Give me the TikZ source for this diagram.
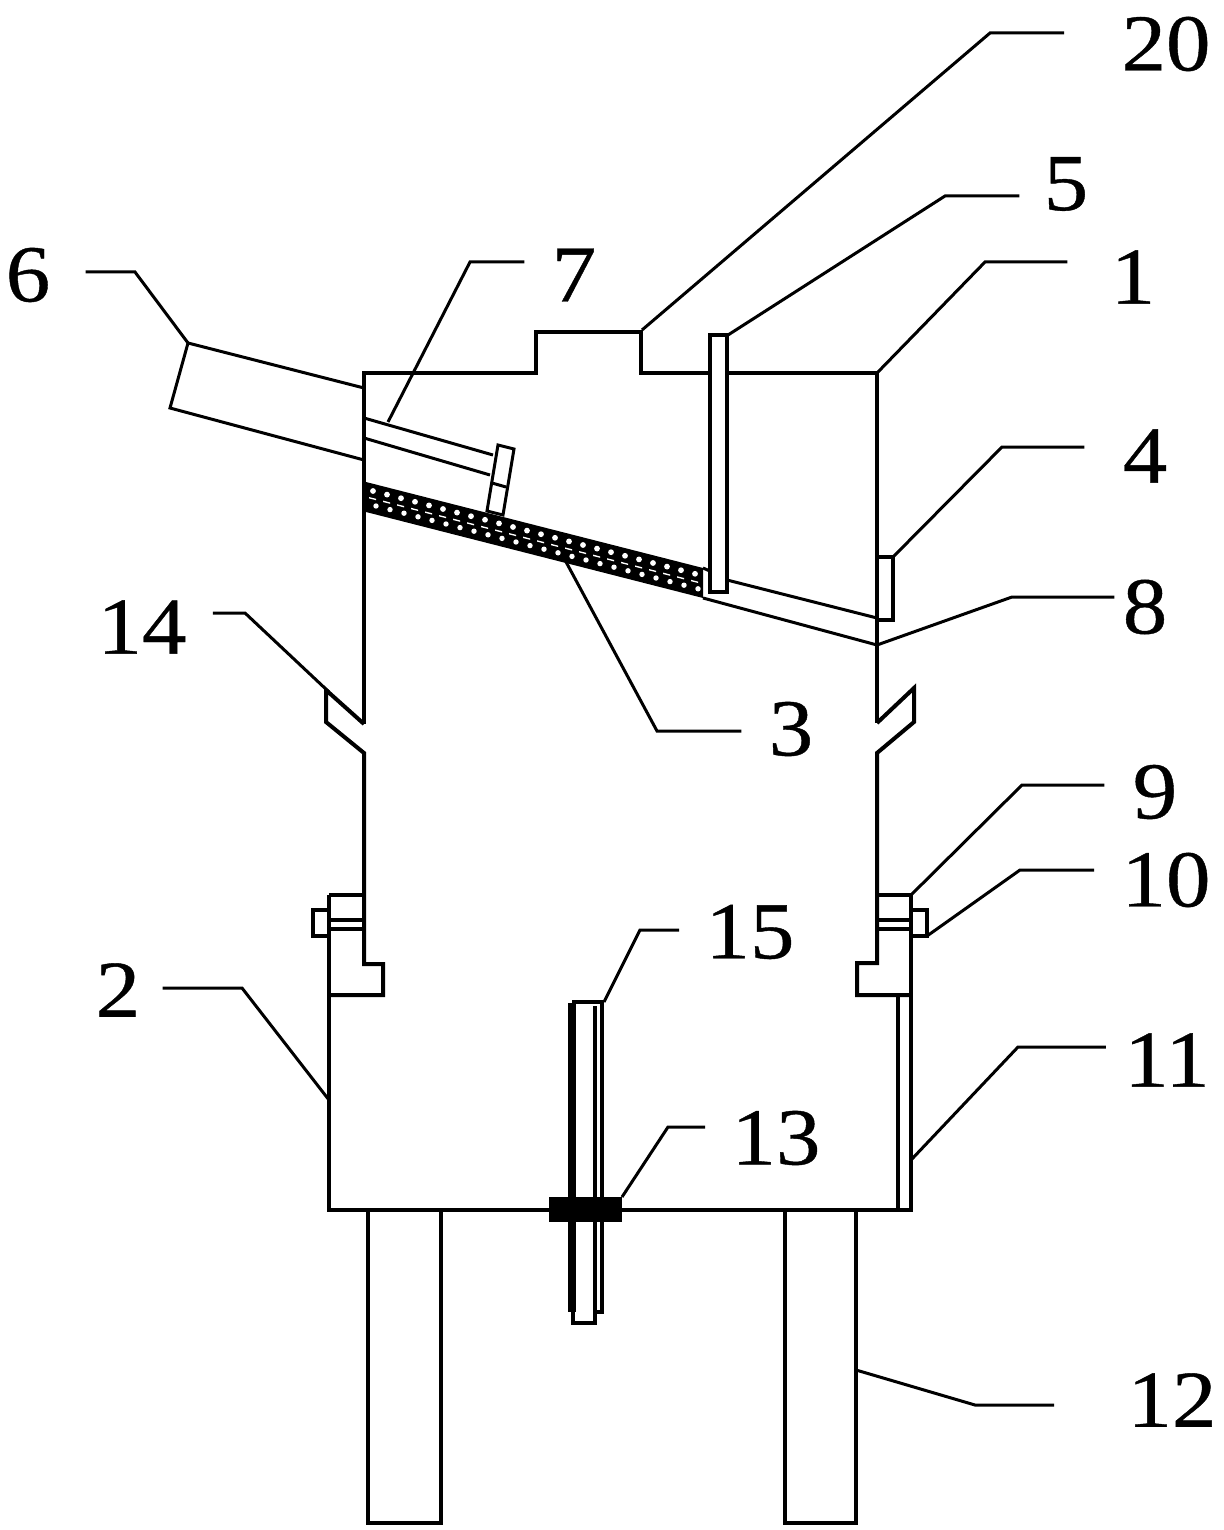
\documentclass[tikz,border=0pt]{standalone}
\usepackage{fontspec}
\setmainfont[FakeStretch=1.1,FakeBold=0.5]{Liberation Serif}

\begin{document}
\begin{tikzpicture}[
        x=0.02cm, y=-0.02cm,
        part/.style={draw, line width=0.08cm},
        panel/.style={draw, fill=white, line width=0.08cm},
        leader/.style={draw, line width=0.06cm},
        tag/.style={font=\fontsize{46}{50}\selectfont, inner ysep=0pt}
    ]
    \useasboundingbox (0,0) rectangle (1223,1530);

    % Upper housing
    \draw [part] (364,724) -- (364,373) -- (536,373) -- (536,332) -- (641,332) -- (641,373) -- (877,373) -- (877,723);
    \draw [part] (364,724) -- (326,690) -- (326,722) -- (364,753) -- (364,964) -- (383,964) -- (383,995) -- (329,995);
    \draw [part] (877,723) -- (914,688) -- (914,722) -- (877,753) -- (877,963) -- (857,963) -- (857,995) -- (911,995);

    % Lower housing and legs
    \draw [part] (329,895) -- (364,895);
    \draw [part] (877,895) -- (911,895);
    \draw [part] (329,895) -- (329,1210) -- (911,1210) -- (911,895);
    \draw [part] (329,920) -- (364,920) (329,929) -- (364,929);
    \draw [part] (877,920) -- (911,920) (877,929) -- (911,929);
    \draw [part] (329,910) -- (313,910) -- (313,936) -- (329,936);
    \draw [part] (911,910) -- (927,910) -- (927,936) -- (911,936);
    \draw [part] (898,995) -- (898,1210);
    \draw [part] (368,1210) -- (368,1523) -- (441,1523) -- (441,1210);
    \draw [part] (785,1210) -- (785,1523) -- (856,1523) -- (856,1210);

    % Feed chute and baffle
    \draw [leader] (364,388) -- (188,343) -- (170,408) -- (364,460);
    \draw [leader] (364,418) -- (493,455);
    \draw [leader] (364,438) -- (490,475);
    \draw [leader] (498,445) -- (514,449) -- (503,515) -- (487,511) -- cycle;
    \draw [leader] (492,483) -- (506,487);

    % Screen
    \fill (366,482) -- (703,568) -- (703,598) -- (366,512) -- cycle;
    \foreach \i in {0,...,23} {
        \fill [white] (373+14*\i,491+3.6*\i) circle (2.9);
        \fill [white] (369+14*\i,497+3.6*\i) -- ++(7,1.8) -- ++(0,1.4) -- ++(-7,-1.8) -- cycle;
        \fill [white] (376+14*\i,506+3.6*\i) circle (2.7);
    }
    \draw [leader] (703,568) -- (712,572);
    \draw [leader] (703,598) -- (877,645);
    \draw [leader] (727,580) -- (877,618);
    \draw [panel] (877,557) rectangle (893,620);
    \draw [panel] (710,335) rectangle (727,592);

    % Center rod
    \draw [part] (573,1312) -- (573,1323) -- (595,1323) -- (595,1312);
    \draw [part, line width=0.17cm] (572,1003) -- (572,1312);
    \draw [part] (572,1002) -- (602,1002) -- (602,1312) -- (595,1312);
    \draw [part] (595,1006) -- (595,1312);
    \fill (549,1197) rectangle (622,1222);

    % Labels
    \node (tag20) [tag, inner xsep=1.14cm] at (1166,44) {20};
    \node (tag5) [tag, inner xsep=0.48cm] at (1066,184) {5};
    \node (tag1) [tag, inner xsep=0.86cm] at (1133,277) {1};
    \node (tag4) [tag, inner xsep=0.76cm] at (1145,456) {4};
    \node (tag8) [tag, inner xsep=0.16cm] at (1145,607) {8};
    \node (tag3) [tag, inner xsep=0.54cm] at (791,729) {3};
    \node (tag7) [tag, inner xsep=0.54cm] at (574,275) {7};
    \node (tag6) [tag, inner xsep=0.7cm] at (28,275) {6};
    \node (tag14) [tag, inner xsep=0.52cm] at (142,627) {14};
    \node (tag2) [tag, inner xsep=0.44cm] at (118,990) {2};
    \node (tag15) [tag, inner xsep=0.52cm] at (750,932) {15};
    \node (tag13) [tag, inner xsep=0.52cm] at (776,1138) {13};
    \node (tag9) [tag, inner xsep=0.56cm] at (1155,792) {9};
    \node (tag10) [tag, inner xsep=0.54cm] at (1166,880) {10};
    \node (tag11) [tag, inner xsep=0.36cm] at (1167,1060) {11};
    \node (tag12) [tag, inner xsep=1.46cm] at (1172,1400) {12};

    % Leaders
    \coordinate (bend20) at (990,33);
    \coordinate (bend5) at (945,196);
    \coordinate (bend1) at (985,262);
    \coordinate (bend4) at (1002,447);
    \coordinate (bend8) at (1012,597);
    \coordinate (bend3) at (657,731);
    \coordinate (bend7) at (470,262);
    \coordinate (bend6) at (135,272);
    \coordinate (bend14) at (245,613);
    \coordinate (bend2) at (242,988);
    \coordinate (bend15) at (640,930);
    \coordinate (bend13) at (668,1127);
    \coordinate (bend9) at (1022,785);
    \coordinate (bend10) at (1020,870);
    \coordinate (bend11) at (1018,1047);
    \coordinate (bend12) at (975,1405);

    \draw [leader] (642,330) -- (bend20) -- (bend20 -| tag20.west);
    \draw [leader] (728,335) -- (bend5) -- (bend5 -| tag5.west);
    \draw [leader] (877,373) -- (bend1) -- (bend1 -| tag1.west);
    \draw [leader] (893,557) -- (bend4) -- (bend4 -| tag4.west);
    \draw [leader] (877,645) -- (bend8) -- (bend8 -| tag8.west);
    \draw [leader] (565,560) -- (bend3) -- (bend3 -| tag3.west);
    \draw [leader] (388,422) -- (bend7) -- (bend7 -| tag7.west);
    \draw [leader] (188,343) -- (bend6) -- (bend6 -| tag6.east);
    \draw [leader] (329,692) -- (bend14) -- (bend14 -| tag14.east);
    \draw [leader] (329,1100) -- (bend2) -- (bend2 -| tag2.east);
    \draw [leader] (604,1002) -- (bend15) -- (bend15 -| tag15.west);
    \draw [leader] (622,1197) -- (bend13) -- (bend13 -| tag13.west);
    \draw [leader] (911,895) -- (bend9) -- (bend9 -| tag9.west);
    \draw [leader] (927,936) -- (bend10) -- (bend10 -| tag10.west);
    \draw [leader] (911,1160) -- (bend11) -- (bend11 -| tag11.west);
    \draw [leader] (856,1370) -- (bend12) -- (bend12 -| tag12.west);

\end{tikzpicture}
\end{document}
